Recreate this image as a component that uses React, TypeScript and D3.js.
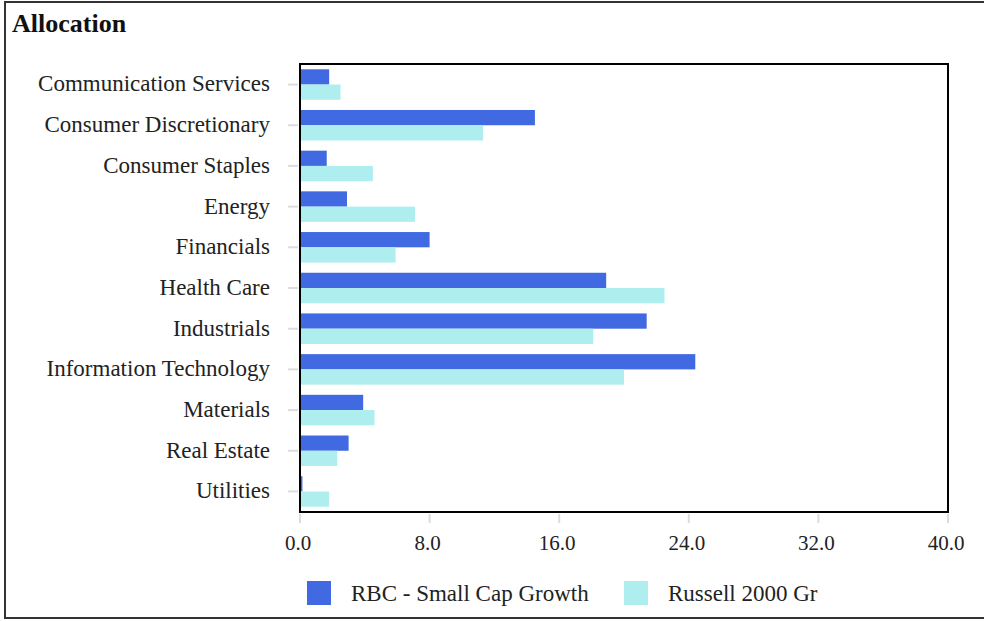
import React from "react";
import * as d3 from "d3";

const categories = [
  "Communication Services",
  "Consumer Discretionary",
  "Consumer Staples",
  "Energy",
  "Financials",
  "Health Care",
  "Industrials",
  "Information Technology",
  "Materials",
  "Real Estate",
  "Utilities",
];
const fundValues = [1.8, 14.5, 1.65, 2.9, 8.0, 18.9, 21.4, 24.4, 3.9, 3.0, 0.15];
const benchValues = [2.5, 11.3, 4.5, 7.1, 5.9, 22.5, 18.1, 20.0, 4.6, 2.3, 1.8];
const seriesNames = ["RBC - Small Cap Growth", "Russell 2000 Gr"];
const xTicks = [0, 8, 16, 24, 32, 40];
const title = "Allocation";

const W = 984;
const H = 621;
const plot = { left: 300, right: 948, top: 64, bottom: 512 };
const colors = ["#4169E1", "#AFEEEE"];
const font = "'Liberation Serif', 'Times New Roman', serif";

export default function App() {
  const x = d3.scaleLinear().domain([0, 40]).range([plot.left, plot.right]);
  const y = d3
    .scaleBand<string>()
    .domain(categories)
    .range([plot.top, plot.bottom])
    .paddingInner(0.25)
    .paddingOuter(0.13);
  const bw = y.bandwidth();
  const sub = d3.scaleBand<number>().domain([0, 1]).range([0, bw]);
  const series = [fundValues, benchValues];

  return (
    <svg
      width={W}
      height={H}
      style={{ position: "absolute", left: 0, top: 0, background: "#fff" }}
      fontFamily={font}
    >
      <rect x={0} y={0} width={W} height={H} fill="#fff" />
      <rect x={5} y={2} width={W + 10} height={616} fill="none" stroke="#333" strokeWidth={2} />
      <text x={12} y={32} fontSize={26} fontWeight="bold" fill="#111">
        {title}
      </text>

      {/* y ticks and labels */}
      {categories.map((c) => {
        const cy = (y(c) as number) + bw / 2;
        return (
          <g key={c}>
            <line x1={288} x2={298} y1={cy} y2={cy} stroke="#ddd" strokeWidth={2} />
            <text x={270} y={cy} dy="0.3em" textAnchor="end" fontSize={23} fill="#222">
              {c}
            </text>
          </g>
        );
      })}

      {/* bars */}
      {series.map((vals, si) =>
        vals.map((v, i) => (
          <rect
            key={`${si}-${i}`}
            x={x(0)}
            y={(y(categories[i]) as number) + (sub(si) as number)}
            width={x(v) - x(0)}
            height={sub.bandwidth()}
            fill={colors[si]}
          />
        ))
      )}

      {/* plot frame */}
      <rect
        x={plot.left}
        y={plot.top}
        width={plot.right - plot.left}
        height={plot.bottom - plot.top}
        fill="none"
        stroke="#000"
        strokeWidth={2}
      />

      {/* x ticks */}
      {xTicks.map((t) => (
        <g key={t}>
          <line x1={x(t)} x2={x(t)} y1={514} y2={523} stroke="#ddd" strokeWidth={2} />
          <text x={x(t) - 2} y={550} textAnchor="middle" fontSize={21} fill="#222">
            {d3.format(".1f")(t)}
          </text>
        </g>
      ))}

      {/* legend */}
      {seriesNames.map((n, i) => {
        const lx = [307, 624][i];
        return (
          <g key={n}>
            <rect x={lx} y={581} width={24} height={24} fill={colors[i]} />
            <text x={lx + 44} y={601} fontSize={23} fill="#222">
              {n}
            </text>
          </g>
        );
      })}
    </svg>
  );
}
